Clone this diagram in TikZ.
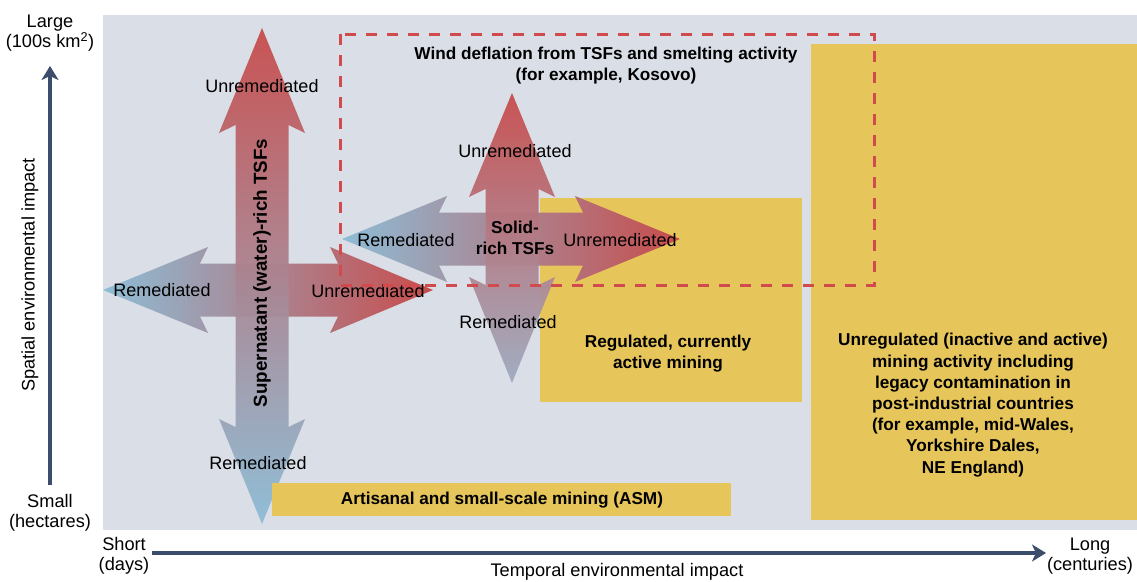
\documentclass[tikz,border=0pt]{standalone}
\usepackage{fontspec}
\setmainfont{Liberation Sans}
\usetikzlibrary{arrows.meta}
\definecolor{bggray}{RGB}{218,222,230}
\definecolor{mineyellow}{RGB}{230,197,90}
\definecolor{tsfred}{RGB}{200,76,76}
\definecolor{tsfblue}{RGB}{141,189,214}
\definecolor{tsfgrey}{RGB}{158,172,192}
\definecolor{axisblue}{RGB}{60,77,107}
\definecolor{dashred}{RGB}{208,74,78}
\tikzset{
	lbl/.style={font=\fontsize{18}{21}\selectfont, inner sep=0pt},
	boxtxt/.style={font=\fontsize{17.2}{21.2}\selectfont\bfseries, align=center, inner sep=0pt},
	axtxt/.style={font=\fontsize{18.2}{20}\selectfont, align=center, inner sep=0pt},
	axisline/.style={draw=axisblue, line width=4.5pt, -{Stealth[length=14pt,width=17pt,inset=4pt]}}
}
% vertical double arrow: [style](x centre:top tip:bottom tip:top head:bottom head)
\def\varrow[#1](#2:#3:#4:#5:#6){\path[#1] (#2,#3) -- ({#2+43},{#3+#5}) -- ({#2+26.5},{#3+#5-8}) -- ({#2+26.5},{#4-#6+8}) -- ({#2+43},{#4-#6}) -- (#2,#4) -- ({#2-43},{#4-#6}) -- ({#2-26.5},{#4-#6+8}) -- ({#2-26.5},{#3+#5-8}) -- ({#2-43},{#3+#5}) -- cycle;}
% horizontal double arrow: [style](y centre:left tip:right tip:left head:right head)
\def\harrow[#1](#2:#3:#4:#5:#6){\path[#1] (#3,#2) -- ({#3+#5},{#2-43}) -- ({#3+#5-8},{#2-26.5}) -- ({#4-#6+8},{#2-26.5}) -- ({#4-#6},{#2-43}) -- (#4,#2) -- ({#4-#6},{#2+43}) -- ({#4-#6+8},{#2+26.5}) -- ({#3+#5-8},{#2+26.5}) -- ({#3+#5},{#2+43}) -- cycle;}
\begin{document}
\begin{tikzpicture}[x=1pt, y=-1pt]
		%%%%% START %%%%%
		\useasboundingbox (0,0) rectangle (1137,581);
		
		\fill[bggray] (103,15) rectangle (1137,530);
		\fill[mineyellow] (811,44) rectangle (1137,520);
		\fill[mineyellow] (540,198) rectangle (802,402);
		
		% supernatant cross
		\harrow[left color=tsfblue, right color=tsfred](290:103:433:105:103)
		\varrow[top color=tsfred, bottom color=tsfblue, opacity=0.95](262:28:524:105:105)
		
		% solid cross
		\harrow[left color=tsfblue, right color=tsfred](239:342:680:105:105)
		\varrow[top color=tsfred, bottom color=tsfgrey, opacity=0.95](512:93:383:104:106)
		
		\fill[mineyellow] (272,483) rectangle (731,516);
		
		\node[lbl] (supUp) at (262,86) {Unremediated};
		\node[lbl] (supDown) at (258,463) {Remediated};
		\node[lbl] (supLeft) at (162,290) {Remediated};
		\node[lbl] (supRight) at (368,291) {Unremediated};
		\node[boxtxt, font=\fontsize{18.8}{22}\selectfont\bfseries, rotate=90] (supName) at (262,273) {Supernatant (water)-rich TSFs};
		
		\node[lbl] (solUp) at (515,151) {Unremediated};
		\node[lbl] (solDown) at (508,322) {Remediated};
		\node[lbl] (solLeft) at (406,240) {Remediated};
		\node[lbl] (solRight) at (620,240) {Unremediated};
		\node[boxtxt] (solName) at (515,238) {Solid-\\rich TSFs};
		
		\node[boxtxt] (wind) at (606,65.5) {Wind deflation from TSFs and smelting activity\\(for example, Kosovo)};
		\node[boxtxt] (regulated) at (668,353.5) {Regulated, currently\\active mining};
		\node[boxtxt] (unregulated) at (973,405) {Unregulated (inactive and active)\\mining activity including\\legacy contamination in\\post-industrial countries\\(for example, mid-Wales,\\Yorkshire Dales,\\NE England)};
		\node[boxtxt] (asm) at (502,500) {Artisanal and small-scale mining (ASM)};
		
		\draw[dashred, line width=3pt, dash pattern=on 11pt off 10pt] (340,34) rectangle (874,285);
		
		% axes
		\node[axtxt] (large) at (50,33) {Large\\(100s km\textsuperscript{2})};
		\node[axtxt] (small) at (50,513) {Small\\(hectares)};
		\node[axtxt] (short) at (124,556) {Short\\(days)};
		\node[axtxt] (long) at (1090,556) {Long\\(centuries)};
		\node[axtxt, rotate=90] (spatial) at (30,275) {Spatial environmental impact};
		\node[axtxt] (temporal) at (617,572) {Temporal environmental impact};
		\coordinate (ybot) at (50,485);
		\coordinate (ytop) at (50,66);
		\coordinate (xleft) at (152,553);
		\coordinate (xright) at (1046,553);
		\draw[axisline] (ybot) -- (ytop);
		\draw[axisline] (xleft) -- (xright);
		
		%%%%% END %%%%%
	\end{tikzpicture}
\end{document}
